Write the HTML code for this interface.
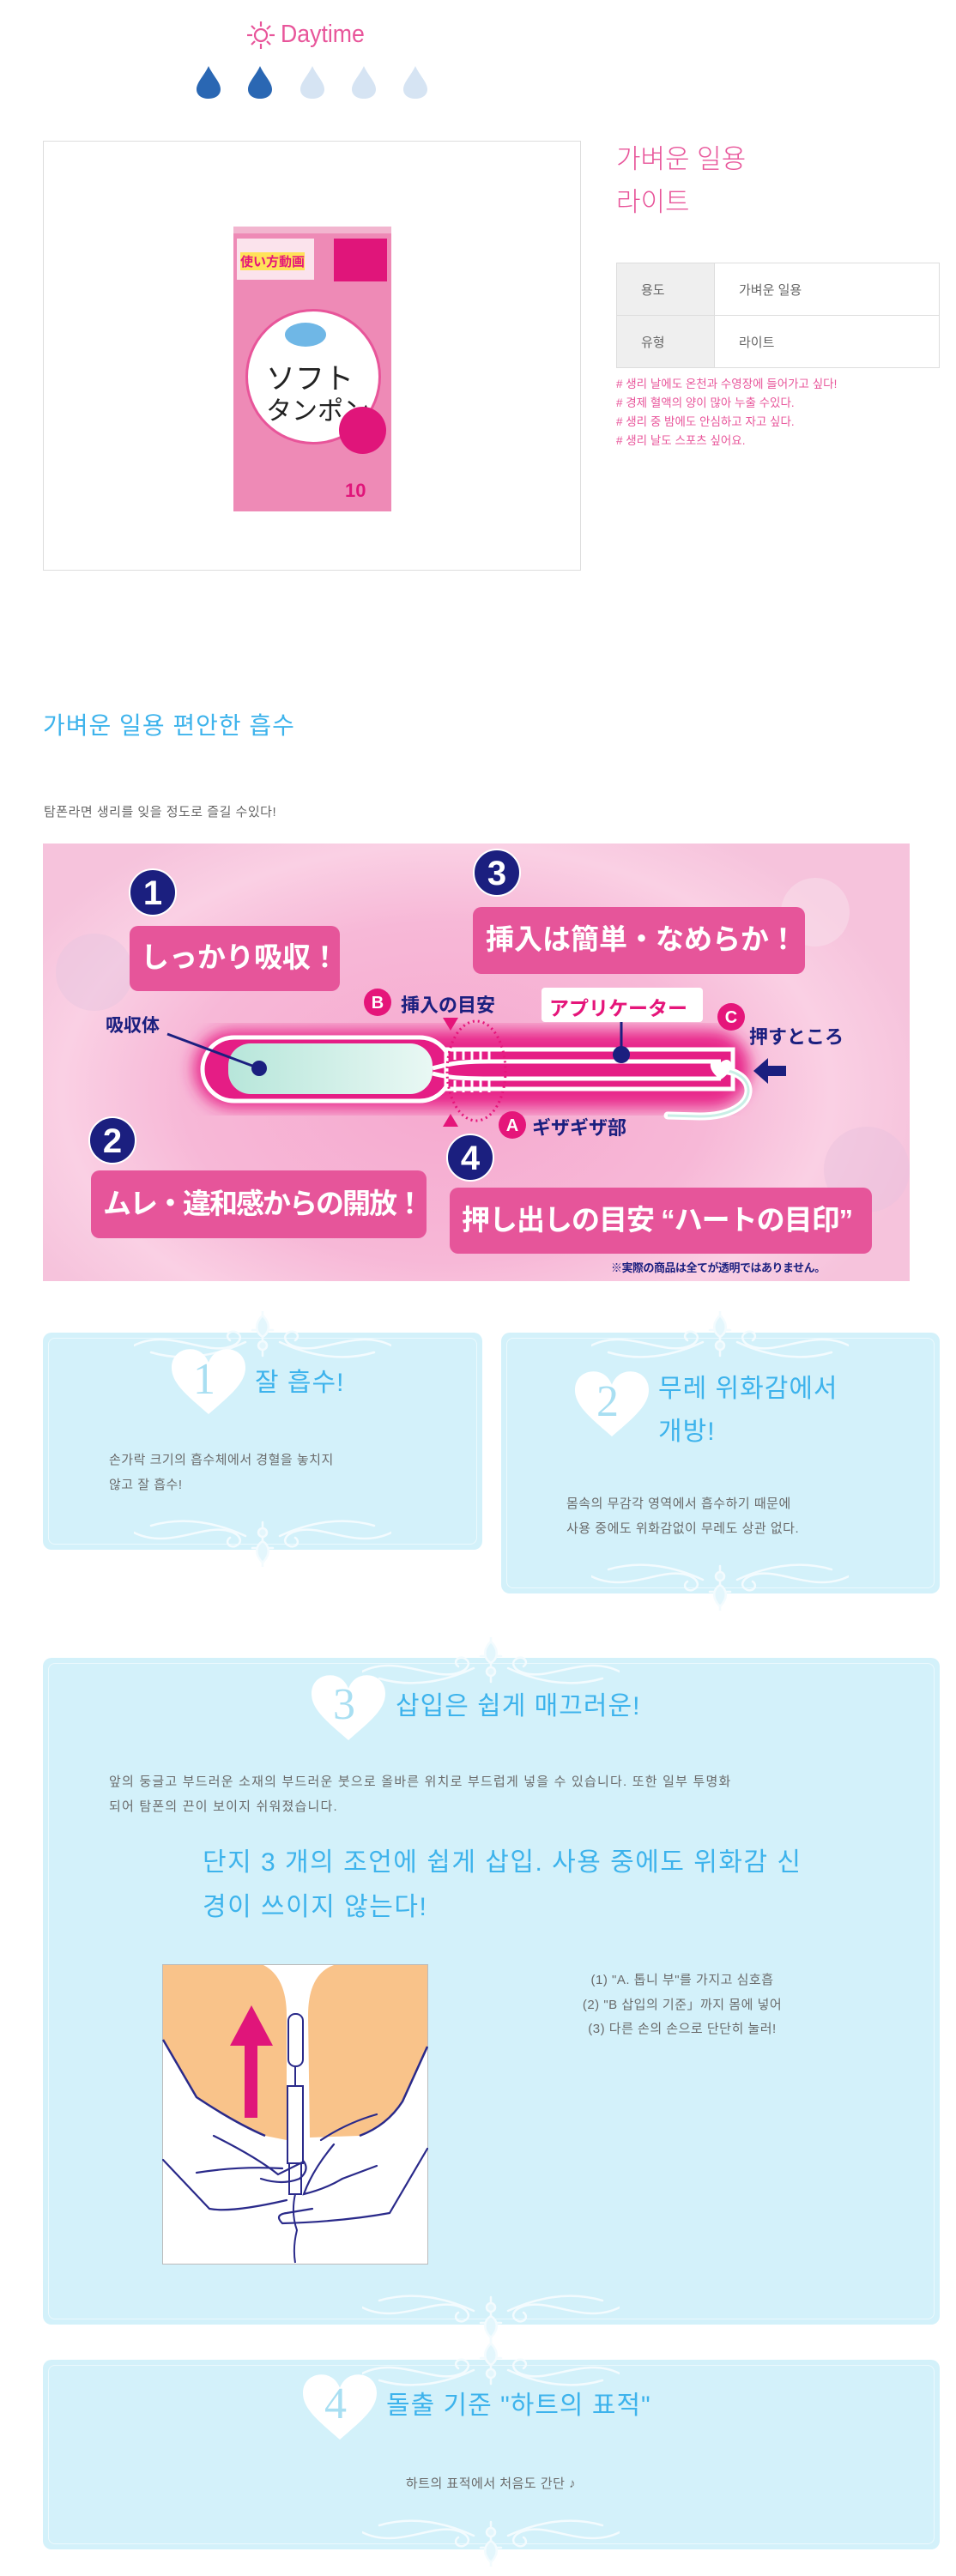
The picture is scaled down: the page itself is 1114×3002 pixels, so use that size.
<!DOCTYPE html>
<html><head><meta charset="utf-8">
<style>
*{margin:0;padding:0;box-sizing:border-box}
body{width:1114px;height:3002px;background:#fff;position:relative;overflow:hidden;font-family:"Liberation Sans","Noto Sans CJK KR",sans-serif;color:#666}
.a{position:absolute}
.pink{color:#e8559a}
.blue{color:#3db3ec}
.card{position:absolute;background:#d3f1fa;border-radius:10px}
.card:before{content:"";position:absolute;left:6px;top:6px;right:6px;bottom:6px;border:1px solid rgba(255,255,255,.55);border-radius:8px}
.t15{font-size:15px;line-height:29px;color:#6a6a6a;letter-spacing:.5px}
.ttl{font-size:30px;color:#3db3ec;white-space:nowrap;letter-spacing:1px}
.jp{font-family:"Liberation Sans","Noto Sans CJK JP",sans-serif;font-weight:bold;white-space:nowrap}
td{border:1px solid #ddd;font-size:15px;color:#666;padding-left:28px}
</style></head><body>

<!-- Daytime -->
<svg class="a" style="left:286px;top:23px" width="36" height="36" viewBox="0 0 36 36">
<g stroke="#e8559a" stroke-width="2.2" fill="none"><circle cx="18" cy="18" r="7"/>
<line x1="18" y1="2" x2="18" y2="8"/><line x1="18" y1="28" x2="18" y2="34"/><line x1="2" y1="18" x2="8" y2="18"/><line x1="28" y1="18" x2="34" y2="18"/>
<line x1="7" y1="7" x2="11" y2="11"/><line x1="25" y1="25" x2="29" y2="29"/><line x1="29" y1="7" x2="25" y2="11"/><line x1="7" y1="29" x2="11" y2="25"/></g></svg>
<div class="a pink" style="left:327px;top:22px;font-size:29px;line-height:36px;transform:scaleX(.92);transform-origin:left">Daytime</div>

<svg class="a" style="left:228px;top:76px" width="280" height="40" viewBox="0 0 280 40">
<defs><path id="dr" d="M15 1 C 20 12 29 20 29 28 C 29 35 23 39 15 39 C 7 39 1 35 1 28 C 1 20 10 12 15 1Z"/></defs>
<use href="#dr" x="0" fill="#2a67b3"/><use href="#dr" x="60" fill="#2a67b3"/>
<use href="#dr" x="121" fill="#d6e4f3"/><use href="#dr" x="181" fill="#d6e4f3"/><use href="#dr" x="241" fill="#d6e4f3"/>
</svg>

<!-- product box -->
<div class="a" style="left:50px;top:164px;width:627px;height:501px;border:1px solid #ddd"></div>
<div class="a" style="left:272px;top:264px;width:184px;height:332px;background:#ee8ab6;overflow:hidden">
  <div class="a" style="left:0;top:0;width:184px;height:8px;background:#f2b5cf"></div>
  <div class="a" style="left:4px;top:14px;width:90px;height:48px;background:#fbe3ec"></div>
  <div class="a jp" style="left:8px;top:30px;font-size:15px;color:#e5157a;background:#ffe25a">使い方動画</div>
  <div class="a" style="left:117px;top:14px;width:62px;height:50px;background:#e0157a"></div>
  <div class="a" style="left:14px;top:96px;width:158px;height:158px;border-radius:50%;background:#fff;border:3px solid #e8559a"></div>
  <div class="a jp" style="left:38px;top:150px;font-size:34px;color:#222;font-weight:normal">ソフト</div>
  <div class="a jp" style="left:38px;top:190px;font-size:30px;color:#222;font-weight:normal">タンポン</div>
  <div class="a" style="left:60px;top:112px;width:48px;height:28px;border-radius:50%;background:#6fb7e6"></div>
  <div class="a" style="left:123px;top:210px;width:55px;height:55px;border-radius:50%;background:#e0157a"></div>
  <div class="a jp" style="left:130px;top:295px;font-size:22px;color:#e0157a">10</div>
</div>

<div class="a pink" style="left:718px;top:166px;font-size:31px;line-height:40px;font-weight:300">가벼운 일용</div>
<div class="a pink" style="left:718px;top:216px;font-size:31px;line-height:40px;font-weight:300">라이트</div>

<table class="a" style="left:718px;top:306px;width:377px;border-collapse:collapse">
<tr style="height:61px"><td style="width:114px;background:#efefef">용도</td><td>가벼운 일용</td></tr>
<tr style="height:61px"><td style="background:#efefef">유형</td><td>라이트</td></tr>
</table>
<div class="a pink" style="left:718px;top:437px;font-size:13.5px;line-height:22px">
# 생리 날에도 온천과 수영장에 들어가고 싶다!<br># 경제 혈액의 양이 많아 누출 수있다.<br># 생리 중 밤에도 안심하고 자고 싶다.<br># 생리 날도 스포츠 싶어요.</div>

<!-- section heading -->
<div class="a blue" style="left:50px;top:828px;font-size:28px;line-height:36px;letter-spacing:1px">가벼운 일용 편안한 흡수</div>
<div class="a" style="left:51px;top:936px;font-size:15px;line-height:22px;color:#666;letter-spacing:.5px">탐폰라면 생리를 잊을 정도로 즐길 수있다!</div>

<!-- banner -->
<div class="a" style="left:50px;top:983px;width:1010px;height:510px;overflow:hidden;background:radial-gradient(ellipse 560px 360px at 470px 290px,#f6a9cf 0%,#f7b8d7 55%,#fad0e4 80%,#f6c3dc 100%)">
<svg width="1010" height="510" viewBox="0 0 1010 510" style="position:absolute;left:0;top:0">
<defs><filter id="bl"><feGaussianBlur stdDeviation="9"/></filter>
<linearGradient id="mint" x1="0" x2="1"><stop offset="0" stop-color="#b7e6da"/><stop offset="1" stop-color="#e9f8f4"/></linearGradient></defs>
<circle cx="900" cy="80" r="40" fill="#f9dcea" opacity=".6"/><circle cx="960" cy="380" r="50" fill="#e9c2de" opacity=".5"/>
<circle cx="60" cy="150" r="45" fill="#e8c6e0" opacity=".5"/>
<rect x="176" y="218" width="648" height="90" rx="45" fill="#e8288a" filter="url(#bl)"/>
<rect x="186" y="226" width="290" height="74" rx="37" fill="#e51d85" stroke="#fff" stroke-width="5"/>
<rect x="470" y="240" width="334" height="46" fill="#e51d85" stroke="#fff" stroke-width="5"/>
<rect x="216" y="233" width="238" height="59" rx="26" fill="url(#mint)"/>
<g stroke="#fff" stroke-width="3"><line x1="480" y1="238" x2="480" y2="252"/><line x1="490" y1="238" x2="490" y2="252"/><line x1="500" y1="238" x2="500" y2="252"/><line x1="510" y1="238" x2="510" y2="252"/><line x1="520" y1="238" x2="520" y2="252"/>
<line x1="480" y1="276" x2="480" y2="290"/><line x1="490" y1="276" x2="490" y2="290"/><line x1="500" y1="276" x2="500" y2="290"/><line x1="510" y1="276" x2="510" y2="290"/><line x1="520" y1="276" x2="520" y2="290"/></g>
<path d="M454 262 C 470 258 480 254 520 254 L 790 254 M 454 268 C 470 272 480 274 520 274 L 790 274" stroke="#fff" stroke-width="5" fill="none"/>
<path d="M785 264 C 835 262 840 318 765 318 L 728 317" stroke="#fff" stroke-width="9" fill="none" stroke-linecap="round"/>
<path d="M785 264 C 835 262 840 318 765 318 L 728 317" stroke="#c9eee6" stroke-width="3" fill="none"/>
<path d="M790 255 C 778 245 770 262 790 275 C 810 262 802 245 790 255Z" fill="#fff"/>
<ellipse cx="505" cy="265" rx="34" ry="58" fill="none" stroke="#e5157a" stroke-width="3" stroke-dasharray="2 4"/>
<polygon points="466,203 484,203 475,218" fill="#e5157a"/><polygon points="466,330 484,330 475,315" fill="#e5157a"/>
<line x1="145" y1="222" x2="252" y2="262" stroke="#1b1f7f" stroke-width="3"/><circle cx="252" cy="262" r="9" fill="#1b1f7f"/>
<line x1="674" y1="208" x2="674" y2="246" stroke="#1b1f7f" stroke-width="3"/><circle cx="674" cy="246" r="10" fill="#1b1f7f"/>
<polygon points="828,265 845,250 845,259 866,259 866,271 845,271 845,280" fill="#1b1f7f"/>
<g font-family="Liberation Sans" font-weight="bold" font-size="40" fill="#fff" text-anchor="middle">
<circle cx="128" cy="57" r="27" fill="#1b1f7f" stroke="#fff" stroke-width="2"/><text x="128" y="71">1</text>
<circle cx="529" cy="34" r="27" fill="#1b1f7f" stroke="#fff" stroke-width="2"/><text x="529" y="48">3</text>
<circle cx="81" cy="346" r="27" fill="#1b1f7f" stroke="#fff" stroke-width="2"/><text x="81" y="360">2</text>
<circle cx="498" cy="366" r="27" fill="#1b1f7f" stroke="#fff" stroke-width="2"/><text x="498" y="380">4</text>
</g>
<g font-family="Liberation Sans" font-weight="bold" font-size="20" fill="#fff" text-anchor="middle">
<circle cx="390" cy="185" r="16" fill="#e5157a"/><text x="390" y="192">B</text>
<circle cx="802" cy="202" r="16" fill="#e5157a"/><text x="802" y="209">C</text>
<circle cx="547" cy="328" r="16" fill="#e5157a"/><text x="547" y="335">A</text>
</g>
</svg>
<div class="a" style="left:101px;top:96px;width:245px;height:76px;background:#e6559a;border-radius:10px"></div>
<div class="a jp" style="left:114px;top:112px;font-size:33px;line-height:42px;color:#fff">しっかり吸収！</div>
<div class="a" style="left:501px;top:74px;width:387px;height:78px;background:#e6559a;border-radius:10px"></div>
<div class="a jp" style="left:516px;top:91px;font-size:33px;line-height:42px;color:#fff">挿入は簡単・なめらか！</div>
<div class="a" style="left:56px;top:381px;width:391px;height:79px;background:#e6559a;border-radius:10px"></div>
<div class="a jp" style="left:70px;top:399px;font-size:33px;line-height:42px;color:#fff;letter-spacing:-2px">ムレ・違和感からの開放！</div>
<div class="a" style="left:474px;top:401px;width:492px;height:77px;background:#e6559a;border-radius:10px"></div>
<div class="a jp" style="left:488px;top:418px;font-size:33px;line-height:42px;color:#fff;letter-spacing:-1px">押し出しの目安 “ハートの目印”</div>
<div class="a jp" style="left:73px;top:196px;font-size:21px;color:#1b1f7f">吸収体</div>
<div class="a jp" style="left:417px;top:171px;font-size:22px;color:#1b1f7f">挿入の目安</div>
<div class="a" style="left:581px;top:168px;width:188px;height:40px;background:#fff;border-radius:4px"></div>
<div class="a jp" style="left:590px;top:173px;font-size:23px;color:#e5157a">アプリケーター</div>
<div class="a jp" style="left:823px;top:208px;font-size:22px;color:#1b1f7f">押すところ</div>
<div class="a jp" style="left:570px;top:314px;font-size:22px;color:#1b1f7f">ギザギザ部</div>
<div class="a jp" style="left:662px;top:484px;font-size:13px;color:#1b1f7f;letter-spacing:-.5px">※実際の商品は全てが透明ではありません。</div>
</div>

<svg width="0" height="0" style="position:absolute">
<defs>
<g id="orn" fill="none" stroke="#f3fbfe" stroke-width="2.5" stroke-linecap="round">
<path d="M0 40 C 40 20 80 50 110 42 C 125 38 128 28 118 24 C 110 22 106 30 112 34"/>
<path d="M300 40 C 260 20 220 50 190 42 C 175 38 172 28 182 24 C 190 22 194 30 188 34"/>
<path d="M20 48 C 60 60 100 50 130 36 M280 48 C 240 60 200 50 170 36"/>
<path d="M150 0 L 150 52 M 138 22 L 162 22"/>
<path d="M150 5 C 140 15 142 25 150 30 C 158 25 160 15 150 5Z" fill="#e3f6fc"/>
<circle cx="150" cy="40" r="5" fill="#e3f6fc"/>
</g>
<path id="hrt" d="M50 88 C 20 62 0 46 0 25 C 0 9 12 0 25 0 C 38 0 46 8 50 18 C 54 8 62 0 75 0 C 88 0 100 9 100 25 C 100 46 80 62 50 88Z"/>
</defs></svg>

<!-- card 1 -->
<div class="card" style="left:50px;top:1553px;width:512px;height:253px"></div>
<svg class="a" style="left:156px;top:1528px" width="300" height="60"><use href="#orn"/></svg>
<svg class="a" style="left:156px;top:1766px;transform:scaleY(-1)" width="300" height="60"><use href="#orn"/></svg>
<svg class="a" style="left:200px;top:1572px" width="86" height="78" viewBox="0 0 100 90"><use href="#hrt" fill="#fff"/></svg>
<div class="a" style="left:225px;top:1578px;font-family:'Liberation Serif',serif;font-size:52px;line-height:60px;color:#a9dff2">1</div>
<div class="a ttl" style="left:297px;top:1592px;line-height:40px">잘 흡수!</div>
<div class="a t15" style="left:127px;top:1687px">손가락 크기의 흡수체에서 경혈을 놓치지<br>않고 잘 흡수!</div>

<!-- card 2 -->
<div class="card" style="left:584px;top:1553px;width:511px;height:304px"></div>
<svg class="a" style="left:689px;top:1528px" width="300" height="60"><use href="#orn"/></svg>
<svg class="a" style="left:689px;top:1817px;transform:scaleY(-1)" width="300" height="60"><use href="#orn"/></svg>
<svg class="a" style="left:670px;top:1598px" width="86" height="78" viewBox="0 0 100 90"><use href="#hrt" fill="#fff"/></svg>
<div class="a" style="left:695px;top:1604px;font-family:'Liberation Serif',serif;font-size:52px;line-height:60px;color:#a9dff2">2</div>
<div class="a ttl" style="left:767px;top:1594px;line-height:50px">무레 위화감에서<br>개방!</div>
<div class="a t15" style="left:660px;top:1738px">몸속의 무감각 영역에서 흡수하기 때문에<br>사용 중에도 위화감없이 무레도 상관 없다.</div>

<!-- card 3 -->
<div class="card" style="left:50px;top:1932px;width:1045px;height:777px"></div>
<svg class="a" style="left:422px;top:1908px" width="300" height="60"><use href="#orn"/></svg>
<svg class="a" style="left:422px;top:2669px;transform:scaleY(-1)" width="300" height="60"><use href="#orn"/></svg>
<svg class="a" style="left:363px;top:1952px" width="86" height="78" viewBox="0 0 100 90"><use href="#hrt" fill="#fff"/></svg>
<div class="a" style="left:388px;top:1957px;font-family:'Liberation Serif',serif;font-size:52px;line-height:60px;color:#a9dff2">3</div>
<div class="a ttl" style="left:461px;top:1969px;line-height:40px">삽입은 쉽게 매끄러운!</div>
<div class="a t15" style="left:127px;top:2062px;width:900px;letter-spacing:1.2px">앞의 둥글고 부드러운 소재의 부드러운 붓으로 올바른 위치로 부드럽게 넣을 수 있습니다. 또한 일부 투명화<br>되어 탐폰의 끈이 보이지 쉬워졌습니다.</div>
<div class="a blue" style="left:236px;top:2145px;font-size:30px;line-height:52px;letter-spacing:1.5px;white-space:nowrap">단지 3 개의 조언에 쉽게 삽입. 사용 중에도 위화감 신<br>경이 쓰이지 않는다!</div>

<svg class="a" style="left:189px;top:2289px" width="310" height="350" viewBox="0 0 310 350">
<rect x="0.5" y="0.5" width="309" height="349" fill="#fff" stroke="#bbb"/>
<path d="M1 1 L118 1 Q145 15 145 60 L145 205 L120 200 Q85 185 40 155 L1 88 Z" fill="#f9c38a"/>
<path d="M200 1 L309 1 L309 96 L280 160 Q262 188 230 200 L172 202 L170 60 Q170 12 200 1Z" fill="#f9c38a"/>
<path d="M1 88 L40 155 Q85 185 120 200" fill="none" stroke="#2a2a8a" stroke-width="2.5"/>
<path d="M309 96 L280 160 Q262 188 230 200" fill="none" stroke="#2a2a8a" stroke-width="2.5"/>
<polygon points="104,48 79,95 129,95" fill="#e0157a"/><rect x="96" y="94" width="15" height="85" fill="#e0157a"/>
<g fill="#fff" stroke="#2a2a8a" stroke-width="2">
<rect x="147" y="58" width="17" height="61" rx="8"/>
<rect x="146" y="142" width="18" height="90" />
<rect x="148" y="232" width="14" height="36"/>
</g>
<path d="M155 119 L155 142 M155 268 Q150 290 157 310 Q152 330 155 348" stroke="#2a2a8a" stroke-width="2" fill="none"/>
<g fill="none" stroke="#2a2a8a" stroke-width="2.2" stroke-linecap="round">
<path d="M1 228 L55 285 Q80 290 145 275"/>
<path d="M60 200 Q110 225 135 245 L165 230 Q172 240 160 250 Q140 258 115 250"/>
<path d="M40 243 Q90 235 140 238"/>
<path d="M309 215 L265 290 Q210 300 140 302 Q130 292 145 290 L175 285"/>
<path d="M200 210 Q175 240 165 268 Q190 262 210 250 L250 235"/>
<path d="M185 205 Q215 185 250 175"/>
</g>
</svg>
<div class="a t15" style="left:575px;top:2294px;width:440px;text-align:center;line-height:28.5px">(1) "A. 톱니 부"를 가지고 심호흡<br>(2) "B 삽입의 기준」까지 몸에 넣어<br>(3) 다른 손의 손으로 단단히 눌러!</div>

<!-- card 4 -->
<div class="card" style="left:50px;top:2750px;width:1045px;height:221px"></div>
<svg class="a" style="left:422px;top:2726px" width="300" height="60"><use href="#orn"/></svg>
<svg class="a" style="left:422px;top:2931px;transform:scaleY(-1)" width="300" height="60"><use href="#orn"/></svg>
<svg class="a" style="left:353px;top:2767px" width="86" height="78" viewBox="0 0 100 90"><use href="#hrt" fill="#fff"/></svg>
<div class="a" style="left:378px;top:2772px;font-family:'Liberation Serif',serif;font-size:52px;line-height:60px;color:#a9dff2">4</div>
<div class="a ttl" style="left:450px;top:2784px;line-height:40px">돌출 기준 "하트의 표적"</div>
<div class="a t15" style="left:322px;top:2880px;width:500px;text-align:center">하트의 표적에서 처음도 간단 ♪</div>

</body></html>
